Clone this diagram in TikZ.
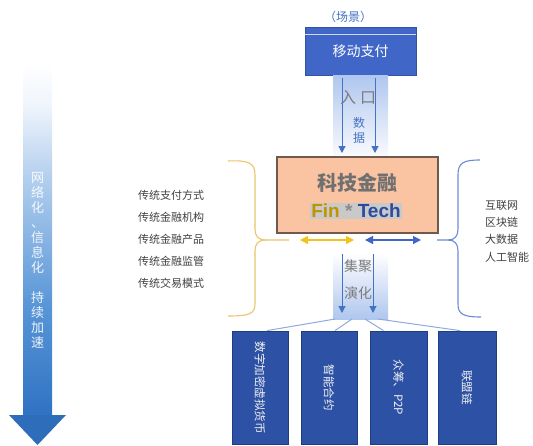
\documentclass[tikz,border=0pt]{standalone}
\usepackage{fontspec}
\newfontfamily\cjk{Noto Sans CJK SC}
\newfontfamily\latn{Liberation Sans}
\usetikzlibrary{arrows.meta,shadings}
\definecolor{topblue}{HTML}{4066C8}
\definecolor{boxblue}{HTML}{2D52A5}
\definecolor{boxedge}{HTML}{1E3C80}
\definecolor{peach}{HTML}{FAC3A2}
\definecolor{brownedge}{HTML}{6E5A4E}
\definecolor{gold}{HTML}{F2C21E}
\definecolor{braceyellow}{HTML}{EAC46A}
\definecolor{braceblue}{HTML}{6A8AD8}
\definecolor{arrblue}{HTML}{4472C4}
\definecolor{fanblue}{HTML}{8FAADC}
\definecolor{bandblue}{HTML}{AFC6EE}
\definecolor{txtgray}{HTML}{404040}
\definecolor{ltgray}{HTML}{8A8A8A}
\definecolor{finGold}{HTML}{BF9400}
\definecolor{techBlue}{HTML}{2B4AA0}
\definecolor{hiGray}{HTML}{C9C9C9}
\definecolor{shaftdark}{HTML}{2F72C2}
\definecolor{shaftmid}{HTML}{5A97D8}
\definecolor{shaftlight}{HTML}{B5D0EE}
\definecolor{shaftpale}{HTML}{F0F5FC}
\definecolor{headblue}{HTML}{2E6DBA}
\pgfdeclareverticalshading{shaftshade}{100bp}{color(0bp)=(shaftdark); color(25bp)=(shaftdark); color(41bp)=(shaftmid); color(59bp)=(shaftlight); color(69bp)=(shaftpale); color(75bp)=(white); color(100bp)=(white)}
\tikzset{
  lefttxt/.style={anchor=west, font=\cjk\fontsize{11}{13}\selectfont, text=txtgray, inner sep=0pt},
  righttxt/.style={anchor=west, font=\cjk\fontsize{11}{13}\selectfont, text=txtgray, inner sep=0pt},
  techbox/.style={draw=boxedge, fill=boxblue, line width=0.8pt},
  vtxt/.style={rotate=-90, font=\cjk\fontsize{11.5}{13}\selectfont, text=white!88!gray, inner sep=0pt},
  flowarrow/.style={draw=arrblue, line width=1pt, -{Triangle[width=7pt,length=7pt]}},
  fanline/.style={draw=fanblue, line width=1pt},
  bandtxt/.style={font=\cjk\fontsize{14}{16}\selectfont, text=ltgray!90!black, inner sep=0pt},
}
\begin{document}
\begin{tikzpicture}[x=1pt,y=-1pt]
\useasboundingbox (0,0) rectangle (533,445);
% left gradient arrow
\shade[shading=shaftshade] (23,62) rectangle (52,416);
\fill[headblue] (9,415) -- (66,415) -- (37.5,445) -- cycle;
\node[align=center, text=white, opacity=0.9, font=\cjk\fontsize{13}{15}\selectfont, inner sep=0pt] (trend) at (37.5,260)
  {网\\络\\化\\、\\信\\息\\化\\\mbox{}\\持\\续\\加\\速};

% top scene box
\node[font=\cjk\fontsize{12}{14}\selectfont, text=arrblue, inner sep=0pt] (scene) at (348,17) {（场景）};
\node[draw=topblue!80!black, fill=topblue, minimum width=111pt, minimum height=48pt, inner sep=0pt,
      text=white, font=\cjk\fontsize{14}{16}\selectfont] (pay) at (360.5,51) {\raisebox{-3pt}{移动支付}};
\draw[white!75!topblue, line width=0.8pt] (pay.north west) ++(0,8) -- ++(111,0);

% upper band
\shade[top color=bandblue, bottom color=white!92!bandblue] (333,75) rectangle (388,156);
\coordinate (a1s) at (342,78);
\coordinate (a1e) at (342,153);
\coordinate (a2s) at (375,78);
\coordinate (a2e) at (375,153);
\draw[flowarrow] (a1s) -- (a1e);
\draw[flowarrow] (a2s) -- (a2e);
\node[bandtxt, font=\cjk\fontsize{16}{18}\selectfont] (entry) at (358,98) {入\hspace{4pt}口};
\node[align=center, font=\cjk\fontsize{12}{15}\selectfont, text=arrblue, inner sep=0pt] (data) at (359,130) {数\\据};

% main box
\node[draw=brownedge, fill=peach, line width=1.2pt, minimum width=161pt, minimum height=76pt, inner sep=0pt] (fintech) at (357.5,195) {};
\node[font=\cjk\fontsize{20}{22}\selectfont\bfseries, text=txtgray!75!white, inner sep=0pt] (kj) at (357.5,183) {科技金融};
\node[fill=hiGray, inner sep=1.5pt, font=\latn\fontsize{19}{21}\selectfont\bfseries] (ft) at (356,211)
  {\textcolor{finGold}{Fin} \textcolor{ltgray}{*} \textcolor{techBlue}{Tech}};

% horizontal double arrows
\coordinate (y1) at (300,240);
\coordinate (y2) at (354,240);
\coordinate (b1) at (365,240);
\coordinate (b2) at (421,240);
\draw[gold, line width=1.2pt, {Triangle[width=8pt,length=8pt]}-{Triangle[width=8pt,length=8pt]}] (y1) -- (y2);
\draw[topblue, line width=1.2pt, {Triangle[width=8pt,length=8pt]}-{Triangle[width=8pt,length=8pt]}] (b1) -- (b2);

% braces
\draw[braceyellow, line width=1.1pt] (228,161) .. controls (249,160) and (255,163) .. (255,175) -- (255,229)
  .. controls (255,236) and (258,240) .. (266,240) -- (289,240);
\draw[braceyellow, line width=1.1pt] (266,240) .. controls (258,240) and (255,244) .. (255,251) -- (255,304)
  .. controls (255,314) and (249,316) .. (228,316);
\draw[braceblue, line width=1.1pt] (480,160) .. controls (463,160) and (458,163) .. (458,175) -- (458,229)
  .. controls (458,236) and (455,240) .. (448,240) -- (437,240);
\draw[braceblue, line width=1.1pt] (448,240) .. controls (455,240) and (458,244) .. (458,251) -- (458,304)
  .. controls (458,314) and (463,317) .. (481,317);

% left texts
\node[lefttxt] (l1) at (138,195) {传统支付方式};
\node[lefttxt] (l2) at (138,217) {传统金融机构};
\node[lefttxt] (l3) at (138,239) {传统金融产品};
\node[lefttxt] (l4) at (138,261) {传统金融监管};
\node[lefttxt] (l5) at (138,283) {传统交易模式};
% right texts
\node[righttxt] (r1) at (485,205) {互联网};
\node[righttxt] (r2) at (485,222) {区块链};
\node[righttxt] (r3) at (485,239) {大数据};
\node[righttxt] (r4) at (485,257) {人工智能};

% lower band
\shade[top color=white, bottom color=bandblue] (333,253) rectangle (388,319);
\coordinate (c1s) at (342,254);
\coordinate (c1e) at (342,313);
\coordinate (c2s) at (373,254);
\coordinate (c2e) at (373,313);
\draw[flowarrow] (c1s) -- (c1e);
\draw[flowarrow] (c2s) -- (c2e);
\node[bandtxt] (jj) at (358,266) {集聚};
\node[bandtxt] (yh) at (358,293) {演化};

% bottom boxes
\node[techbox, minimum width=56pt, minimum height=113pt, inner sep=0pt] (k1) at (260,387.5) {};
\node[techbox, minimum width=56pt, minimum height=113pt, inner sep=0pt] (k2) at (329,387.5) {};
\node[techbox, minimum width=57pt, minimum height=113pt, inner sep=0pt] (k3) at (398.5,387.5) {};
\node[techbox, minimum width=58pt, minimum height=113pt, inner sep=0pt] (k4) at (467,387.5) {};
\node[vtxt] (t1) at (k1.center) {数字加密虚拟货币};
\node[vtxt] (t2) at (k2.center) {智能合约};
\node[vtxt] (t3) at (k3.center) {众筹、P2P};
\node[vtxt] (t4) at (k4.center) {联盟链};

% fan lines
\coordinate (f1) at (335,319);
\coordinate (f2) at (352,319);
\coordinate (f3) at (365,319);
\coordinate (f4) at (378,319);
\draw[fanline] (f1) -- ([xshift=7pt]k1.north);
\draw[fanline] (f2) -- ([xshift=6pt]k2.north);
\draw[fanline] (f3) -- ([xshift=-15pt]k3.north);
\draw[fanline] (f4) -- ([xshift=-7pt]k4.north);
\end{tikzpicture}
\end{document}
